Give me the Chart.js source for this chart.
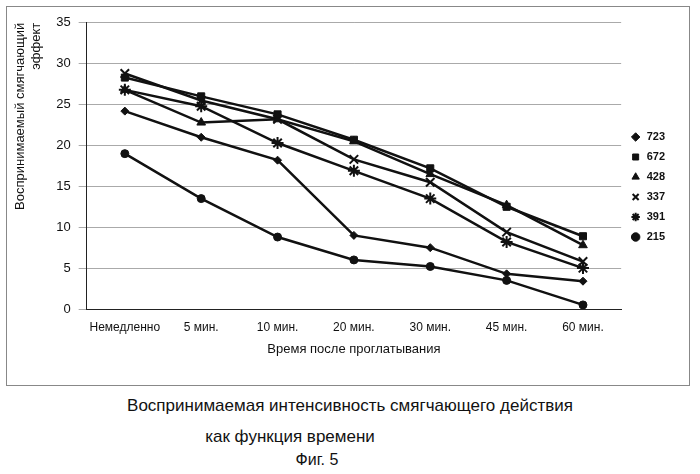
<!DOCTYPE html>
<html><head><meta charset="utf-8">
<script src="https://cdn.jsdelivr.net/npm/chart.js@4"></script>
<style>
body{margin:0;background:#fff;font-family:Arial,"Liberation Sans",sans-serif;}
#box{position:absolute;left:6px;top:6px;width:682px;height:378px;border:1px solid #888;}
.cap{position:absolute;width:700px;left:0;text-align:center;font-size:17px;color:#111;}
</style></head><body>
<div id="box"><canvas id="c"></canvas></div>
<div class="cap" style="top:396px;">Воспринимаемая интенсивность смягчающего действия</div>
<div class="cap" style="top:427px;left:-60px;">как функция времени</div>
<div class="cap" style="top:451px;left:-33px;font-size:16px;">Фиг. 5</div>
<script>
// data
var categories = ['Немедленно', '5 мин.', '10 мин.', '20 мин.', '30 мин.', '45 мин.', '60 мин.'];
var s723 = [24.2, 21.0, 18.2, 9.0, 7.5, 4.3, 3.4];
var s672 = [28.3, 26.0, 23.8, 20.7, 17.2, 12.5, 8.9];
var s428 = [26.8, 22.8, 23.2, 20.5, 16.5, 12.7, 7.8];
var s337 = [28.8, 25.5, 23.2, 18.3, 15.5, 9.4, 5.8];
var s391 = [26.8, 24.8, 20.3, 16.9, 13.5, 8.2, 5.0];
var s215 = [19.0, 13.5, 8.8, 6.0, 5.2, 3.5, 0.5];
var yTicks = [0, 5, 10, 15, 20, 25, 30, 35];

function ds(label, data, style, radius) {
    return {
        label: label, data: data,
        borderColor: '#111', backgroundColor: '#111',
        borderWidth: 2.5, pointStyle: style, pointRadius: radius,
        pointBorderWidth: style === 'cross' || style === 'crossRot' || style === 'star' ? 2 : 1,
        tension: 0
    };
}

var ctx = document.getElementById('c').getContext('2d');
document.getElementById('c').parentNode.style.height = '378px';
new Chart(ctx, {
    type: 'line',
    data: {
        labels: categories,
        datasets: [
            ds('723', s723, 'rectRot', 4),
            ds('672', s672, 'rect', 5),
            ds('428', s428, 'triangle', 5),
            ds('337', s337, 'crossRot', 6),
            ds('391', s391, 'star', 6),
            ds('215', s215, 'circle', 4)
        ]
    },
    options: {
        responsive: true,
        maintainAspectRatio: false,
        animation: false,
        layout: { padding: { top: 6, right: 14, bottom: 24, left: 2 } },
        plugins: {
            legend: {
                position: 'right',
                labels: {
                    usePointStyle: true, color: '#111', boxHeight: 6,
                    font: { size: 11, weight: 'bold' }, padding: 9
                }
            },
            tooltip: { enabled: false }
        },
        scales: {
            x: {
                offset: true,
                grid: { display: false },
                border: { color: '#222' },
                ticks: { color: '#111', font: { size: 12 }, maxRotation: 0 },
                title: { display: true, text: 'Время после проглатывания', color: '#111', font: { size: 13 } }
            },
            y: {
                min: 0, max: 35,
                afterBuildTicks: function (s) { s.ticks = yTicks.map(function (v) { return { value: v }; }); },
                grid: { color: '#aaa' },
                border: { color: '#222' },
                ticks: { color: '#111', font: { size: 13 }, padding: 8 },
                title: {
                    display: true, text: ['Воспринимаемый смягчающий', 'эффект'],
                    align: 'end', color: '#111', font: { size: 13 }
                }
            }
        }
    }
});
</script>
</body></html>
